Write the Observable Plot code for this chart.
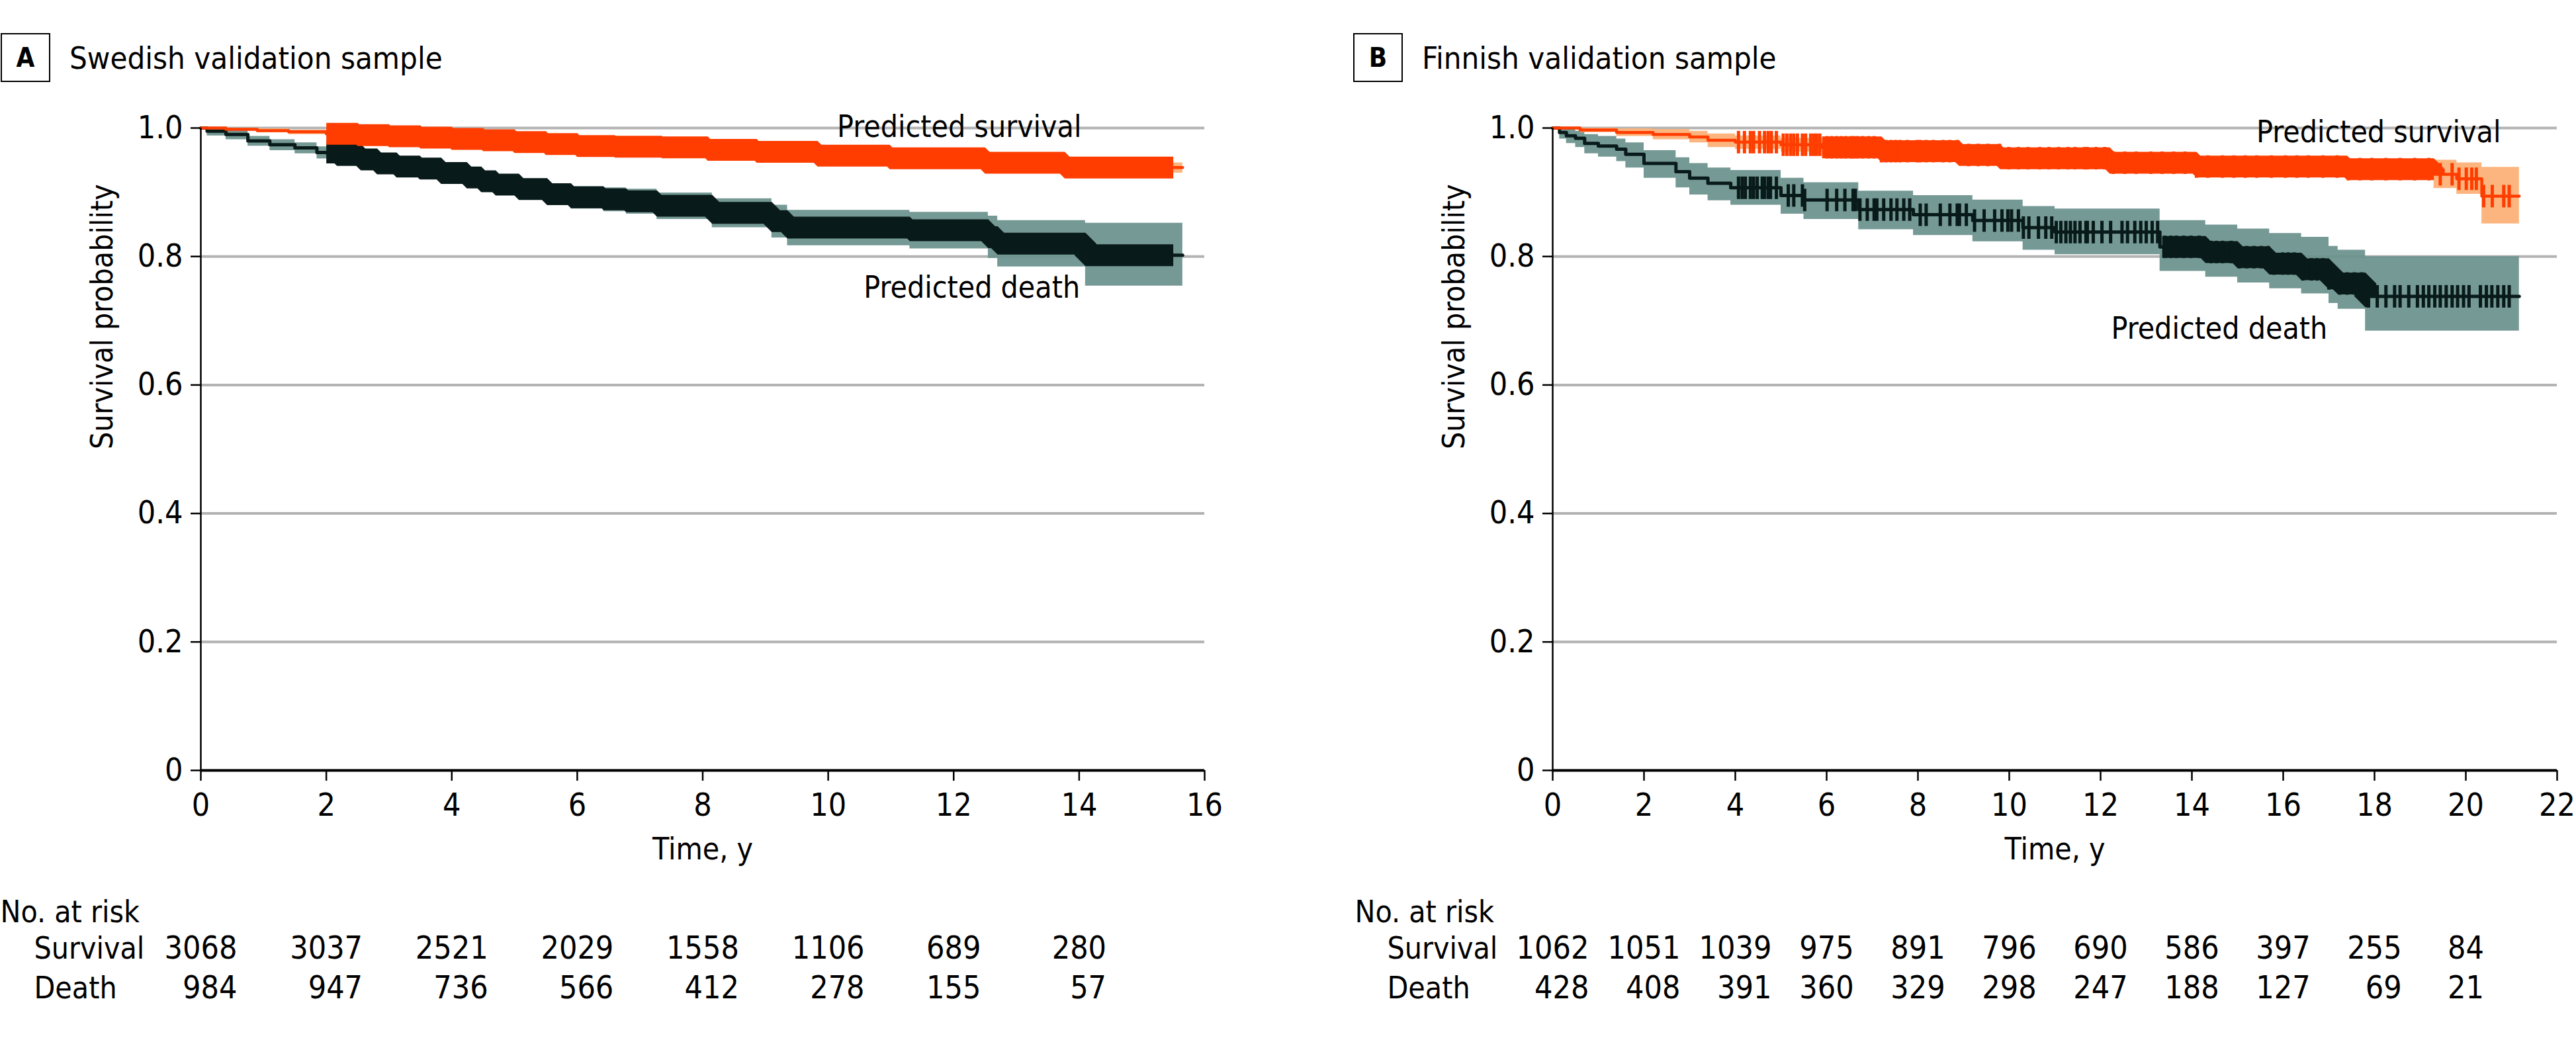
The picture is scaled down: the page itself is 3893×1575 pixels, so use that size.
<!DOCTYPE html>
<html><head><meta charset="utf-8">
<script src="https://cdn.jsdelivr.net/npm/d3@7"></script>
<script src="https://cdn.jsdelivr.net/npm/@observablehq/plot@0.6"></script>
<style>
html,body{margin:0;padding:0;background:#fff;}
body{width:3893px;height:1575px;position:relative;overflow:hidden;font-family:"DejaVu Sans Condensed","DejaVu Sans",sans-serif;font-stretch:condensed;color:#000;}
.hdr{position:absolute;top:50px;height:74px;display:flex;align-items:center;}
.box{box-sizing:border-box;width:75px;height:74px;border:2.5px solid #000;display:flex;align-items:center;justify-content:center;font-weight:bold;font-size:40px;}
.ttl{font-size:47px;margin-left:29px;}
.panel{position:absolute;top:140px;}
</style>
</head><body>
<div class="hdr" style="left:1px"><div class="box">A</div><div class="ttl">Swedish validation sample</div></div>
<div class="hdr" style="left:2045px"><div class="box">B</div><div class="ttl">Finnish validation sample</div></div>
<div class="panel" id="pa" style="left:0px"></div>
<div class="panel" id="pb" style="left:1950px"></div>
<script>
// ---------------- DATA ----------------
// Panel A: Swedish validation sample (Kaplan-Meier steps)
const swedishSurvTime = [0, 0.4, 0.9, 1.4, 2.0, 2.5, 3.0, 3.5, 4.0, 4.5, 5.0, 5.5, 6.0, 6.6, 7.35, 8.08, 8.86, 9.83, 10.98, 12.5, 13.77, 15.65];
const swedishSurvS    = [1.0, 0.998, 0.996, 0.994, 0.991, 0.989, 0.987, 0.985, 0.983, 0.981, 0.978, 0.975, 0.972, 0.971, 0.970, 0.966, 0.963, 0.957, 0.953, 0.946, 0.9385, 0.9385];
const swedishSurvLo   = [1.0, 0.996, 0.993, 0.990, 0.987, 0.985, 0.983, 0.981, 0.978, 0.976, 0.973, 0.970, 0.967, 0.966, 0.964, 0.960, 0.957, 0.950, 0.946, 0.938, 0.930, 0.930];
const swedishSurvHi   = [1.0, 1.0, 0.999, 0.997, 0.995, 0.993, 0.991, 0.989, 0.987, 0.985, 0.983, 0.980, 0.977, 0.976, 0.975, 0.971, 0.968, 0.963, 0.959, 0.953, 0.946, 0.946];

const swedishDeathTime = [0, 0.1, 0.4, 0.75, 1.1, 1.5, 1.85, 2.17, 2.55, 2.81, 3.12, 3.49, 3.83, 4.24, 4.47, 4.7, 5.07, 5.52, 5.9, 6.42, 6.78, 7.27, 8.15, 9.1, 9.35, 11.3, 12.55, 12.7, 14.1, 15.65];
const swedishDeathS    = [1.0, 0.995, 0.990, 0.980, 0.974, 0.969, 0.962, 0.958, 0.951, 0.945, 0.940, 0.937, 0.930, 0.923, 0.917, 0.912, 0.905, 0.897, 0.892, 0.889, 0.886, 0.879, 0.868, 0.855, 0.845, 0.841, 0.830, 0.820, 0.802, 0.802];
const swedishDeathHi   = [1.0, 1.0, 0.996, 0.987, 0.982, 0.977, 0.971, 0.967, 0.961, 0.956, 0.952, 0.949, 0.943, 0.936, 0.931, 0.926, 0.920, 0.913, 0.909, 0.907, 0.905, 0.899, 0.890, 0.880, 0.872, 0.869, 0.863, 0.856, 0.852, 0.852];
const swedishDeathLo   = [1.0, 0.988, 0.982, 0.972, 0.965, 0.960, 0.952, 0.948, 0.940, 0.933, 0.927, 0.924, 0.916, 0.909, 0.902, 0.897, 0.889, 0.880, 0.874, 0.870, 0.866, 0.858, 0.845, 0.829, 0.817, 0.812, 0.797, 0.784, 0.754, 0.754];
// spans where censoring marks are so dense that they merge into a solid band
const swedishSurvDenseCensor  = [2.0, 15.5];
const swedishDeathDenseCensor = [2.0, 15.5];

const swedishRiskTimes    = [0, 2, 4, 6, 8, 10, 12, 14];
const swedishRiskSurvival = [3068, 3037, 2521, 2029, 1558, 1106, 689, 280];
const swedishRiskDeath    = [984, 947, 736, 566, 412, 278, 155, 57];
const swedishXTicks = [0, 2, 4, 6, 8, 10, 12, 14, 16];

// Panel B: Finnish validation sample
const finnishSurvTime = [0, 0.6, 1.4, 2.2, 3.0, 3.4, 4.0, 5.0, 5.9, 7.2, 8.9, 9.8, 12.2, 14.1, 17.4, 19.3, 19.8, 20.35, 21.17];
const finnishSurvS    = [1.0, 0.997, 0.993, 0.990, 0.986, 0.981, 0.978, 0.974, 0.970, 0.964, 0.958, 0.953, 0.946, 0.940, 0.936, 0.928, 0.921, 0.894, 0.894];
const finnishSurvHi   = [1.0, 1.0, 0.999, 0.998, 0.995, 0.991, 0.988, 0.984, 0.980, 0.974, 0.968, 0.963, 0.957, 0.951, 0.947, 0.950, 0.946, 0.939, 0.939];
const finnishSurvLo   = [1.0, 0.993, 0.987, 0.982, 0.977, 0.970, 0.967, 0.963, 0.958, 0.952, 0.946, 0.941, 0.934, 0.927, 0.922, 0.906, 0.897, 0.851, 0.851];

const finnishDeathTime = [0, 0.15, 0.3, 0.5, 0.7, 1.0, 1.4, 1.6, 2.0, 2.7, 3.0, 3.4, 3.9, 5.0, 5.5, 6.7, 7.9, 9.2, 10.3, 11.0, 13.3, 14.3, 15.0, 15.7, 16.4, 17.0, 17.2, 17.8, 21.17];
const finnishDeathS    = [1.0, 0.993, 0.988, 0.984, 0.976, 0.972, 0.967, 0.959, 0.945, 0.932, 0.922, 0.914, 0.907, 0.895, 0.888, 0.873, 0.865, 0.856, 0.845, 0.838, 0.815, 0.807, 0.799, 0.789, 0.780, 0.766, 0.758, 0.738, 0.738];
const finnishDeathHi   = [1.0, 1.0, 0.998, 0.995, 0.990, 0.987, 0.983, 0.977, 0.965, 0.954, 0.945, 0.938, 0.934, 0.922, 0.915, 0.902, 0.895, 0.888, 0.878, 0.874, 0.856, 0.849, 0.843, 0.836, 0.830, 0.816, 0.810, 0.800, 0.800];
const finnishDeathLo   = [1.0, 0.983, 0.976, 0.970, 0.960, 0.955, 0.948, 0.938, 0.922, 0.907, 0.896, 0.887, 0.880, 0.866, 0.858, 0.842, 0.833, 0.823, 0.810, 0.803, 0.777, 0.768, 0.759, 0.750, 0.742, 0.727, 0.718, 0.684, 0.684];

const finnishSurvCensor = [4.07, 4.20, 4.33, 4.40, 4.53, 4.64, 4.72, 4.79, 4.90, 5.05, 5.13, 5.21, 5.28, 5.36, 5.47, 5.54, 5.65, 5.72, 5.78, 5.85,
  6.01, 6.11, 6.22, 6.32, 6.42, 6.53, 6.60, 6.68, 6.79, 6.92, 7.04, 7.20, 7.30, 7.41, 7.51, 7.61, 7.77, 7.98, 8.05, 8.18, 8.34, 8.55, 8.70, 8.86,
  9.11, 9.32, 9.53, 9.79, 9.99, 10.2, 10.41, 10.67, 10.87, 11.08, 11.29, 11.44, 11.65, 11.71, 11.90, 12.09, 12.28, 12.53, 12.78, 13.10, 13.35,
  13.60, 13.85, 14.10, 14.35, 14.67, 14.92, 15.17, 15.42, 15.74, 16.05, 16.30, 16.55, 16.87, 17.18, 17.43, 17.68, 17.94, 18.25, 18.56, 18.88,
  19.19, 19.44, 19.70, 19.85, 20.01, 20.13, 20.23, 20.39, 20.58, 20.83, 20.95];
const finnishDeathCensor = [4.07, 4.15, 4.22, 4.33, 4.40, 4.48, 4.59, 4.64, 4.72, 4.77, 4.90, 5.16, 5.28, 5.47, 5.52, 6.01, 6.22, 6.40, 6.58, 6.63,
  6.73, 6.89, 7.04, 7.10, 7.25, 7.41, 7.54, 7.69, 7.82, 8.05, 8.18, 8.49, 8.70, 8.86, 8.91, 9.06, 9.24, 9.45, 9.68, 9.84, 9.97, 10.05, 10.2,
  10.31, 10.43, 10.64, 10.80, 10.93, 11.03, 11.13, 11.24, 11.34, 11.44, 11.55, 11.68, 11.71, 11.84, 12.03, 12.22, 12.47, 12.59, 12.75, 12.88,
  13.0, 13.13, 13.25, 13.41, 13.54, 13.66, 13.82, 13.98, 14.16, 14.42, 14.54, 14.67, 14.86, 15.04, 15.2, 15.36, 15.52, 15.67, 15.8, 15.99,
  16.11, 16.24, 16.43, 16.62, 16.74, 16.87, 17.0, 17.12, 17.24, 17.4, 17.56, 17.72, 17.87, 18.06, 18.25, 18.44, 18.56, 18.75, 18.94, 19.07,
  19.19, 19.32, 19.44, 19.57, 19.7, 19.82, 19.95, 20.07, 20.32, 20.45, 20.57, 20.7, 20.83, 20.95];
const finnishSurvDenseCensor  = [5.9, 19.3];
const finnishDeathDenseCensor = [13.35, 17.85];

const finnishRiskTimes    = [0, 2, 4, 6, 8, 10, 12, 14, 16, 18, 20];
const finnishRiskSurvival = [1062, 1051, 1039, 975, 891, 796, 690, 586, 397, 255, 84];
const finnishRiskDeath    = [428, 408, 391, 360, 329, 298, 247, 188, 127, 69, 21];
const finnishXTicks = [0, 2, 4, 6, 8, 10, 12, 14, 16, 18, 20, 22];

const yTicks = [0, 0.2, 0.4, 0.6, 0.8, 1.0];
const gridValues = [0.2, 0.4, 0.6, 0.8, 1.0];

// curve labels: [text, time, probability]
const swedishLabels = [["Predicted survival", 12.09, 1.001], ["Predicted death", 12.29, 0.751]];
const finnishLabels = [["Predicted survival", 18.09, 0.993], ["Predicted death", 14.6, 0.687]];

// ---------------- STYLE ----------------
const FONT = '"DejaVu Sans Condensed","DejaVu Sans",sans-serif';
const ORANGE = "#ff3d00", LIGHT_ORANGE = "#fdb178", DARK = "#081a19", TEAL = "#6b918d", GRID = "#b3b3b3";

function stepValue(times, vals, t) {
  const i = d3.bisectRight(times, t) - 1;
  return vals[Math.max(0, i)];
}
function rows(times, s, lo, hi) { return times.map((t, i) => ({t, s: s[i], lo: lo[i], hi: hi[i]})); }
function bandRows(times, s, span) {
  const r = [{t: span[0], s: stepValue(times, s, span[0])}];
  times.forEach((t, i) => { if (t > span[0] && t < span[1]) r.push({t, s: s[i]}); });
  r.push({t: span[1], s: stepValue(times, s, span[1])});
  return r;
}
function censorRows(censor, times, s) { return censor.map(t => ({t, s: stepValue(times, s, t)})); }
const vtick = {draw(context, size) { const h = Math.sqrt(size / Math.PI); context.moveTo(0, -h); context.lineTo(0, h); }};
const bandStyle = {x: "t", y: "s", curve: "step-after", strokeWidth: 33, strokeLinecap: "butt", strokeLinejoin: "miter"};

function panel(o) {
  const surv = rows(o.survTime, o.survS, o.survLo, o.survHi);
  const death = rows(o.deathTime, o.deathS, o.deathLo, o.deathHi);
  const risk = o.riskTimes.map((t, i) => {
    const a = String(o.riskSurv[i]), b = String(o.riskDeath[i]);
    return {t, surv: a, death: "\u2007".repeat(Math.max(0, a.length - b.length)) + b};
  });
  const marks = [
    Plot.ruleY(gridValues, {stroke: GRID, strokeWidth: 4}),
    Plot.areaY(death, {x: "t", y1: "lo", y2: "hi", curve: "step-after", fill: TEAL, fillOpacity: 0.93}),
    Plot.areaY(surv, {x: "t", y1: "lo", y2: "hi", curve: "step-after", fill: LIGHT_ORANGE, fillOpacity: 0.95}),
    Plot.line(death, {x: "t", y: "s", curve: "step-after", stroke: DARK, strokeWidth: 5}),
    Plot.line(surv, {x: "t", y: "s", curve: "step-after", stroke: ORANGE, strokeWidth: 4.5}),
  ];
  if (o.deathDense) marks.push(Plot.line(bandRows(o.deathTime, o.deathS, o.deathDense), {...bandStyle, stroke: DARK}));
  if (o.deathCensor) marks.push(Plot.dot(censorRows(o.deathCensor, o.deathTime, o.deathS), {x: "t", y: "s", symbol: vtick, r: 17, fill: "none", stroke: DARK, strokeWidth: 5}));
  if (o.survDense) marks.push(Plot.line(bandRows(o.survTime, o.survS, o.survDense), {...bandStyle, stroke: ORANGE}));
  if (o.survCensor) marks.push(Plot.dot(censorRows(o.survCensor, o.survTime, o.survS), {x: "t", y: "s", symbol: vtick, r: 17, fill: "none", stroke: ORANGE, strokeWidth: 5}));
  marks.push(
    Plot.axisX({ticks: o.xTicks, tickSize: 16, tickPadding: 18, tickFormat: d => String(d), strokeWidth: 2.5, label: null}),
    Plot.axisY({ticks: yTicks, tickSize: 15, tickPadding: 12, tickFormat: d => d === 0 ? "0" : d.toFixed(1), strokeWidth: 2.5, label: null}),
    Plot.ruleX([0], {y1: 0, y2: 1, stroke: "#000", strokeWidth: 2.5}),
    Plot.ruleY([0], {stroke: "#000", strokeWidth: 4}),
    Plot.text(o.labels, {x: d => d[1], y: d => d[2], text: d => d[0], fill: "#000", fontSize: 46}),
    Plot.text(["Survival probability"], {frameAnchor: "left", rotate: -90, dx: -148, text: d => d, fontSize: 46}),
    Plot.text(["Time, y"], {frameAnchor: "bottom", dy: 134, text: d => d, fontSize: 46}),
    Plot.text(["No. at risk"], {frameAnchor: "bottom-left", dx: o.noRiskDx, dy: 229, textAnchor: "start", text: d => d, fontSize: 46}),
    Plot.text(["Survival"], {frameAnchor: "bottom-left", dx: o.rowDx, dy: 284, textAnchor: "start", text: d => d, fontSize: 46}),
    Plot.text(["Death"], {frameAnchor: "bottom-left", dx: o.rowDx, dy: 344, textAnchor: "start", text: d => d, fontSize: 46}),
    Plot.text(risk, {x: "t", frameAnchor: "bottom", dy: 284, text: "surv"}),
    Plot.text(risk, {x: "t", frameAnchor: "bottom", dy: 344, text: "death"})
  );
  return Plot.plot({
    width: o.width, height: 1435,
    marginTop: 53, marginBottom: 411, marginLeft: o.marginLeft, marginRight: o.marginRight,
    x: {domain: [0, o.xMax]},
    y: {domain: [0, 1]},
    style: {fontFamily: FONT, fontSize: "48px", color: "#000", background: "transparent", overflow: "visible", fontStretch: "condensed"},
    marks
  });
}

document.getElementById("pa").append(panel({
  width: 1900, marginLeft: 303, marginRight: 80, xMax: 16, xTicks: swedishXTicks,
  survTime: swedishSurvTime, survS: swedishSurvS, survLo: swedishSurvLo, survHi: swedishSurvHi,
  deathTime: swedishDeathTime, deathS: swedishDeathS, deathLo: swedishDeathLo, deathHi: swedishDeathHi,
  survDense: swedishSurvDenseCensor, deathDense: swedishDeathDenseCensor,
  riskTimes: swedishRiskTimes, riskSurv: swedishRiskSurvival, riskDeath: swedishRiskDeath,
  labels: swedishLabels, noRiskDx: -303, rowDx: -252
}));
document.getElementById("pb").append(panel({
  width: 1943, marginLeft: 396, marginRight: 29, xMax: 22, xTicks: finnishXTicks,
  survTime: finnishSurvTime, survS: finnishSurvS, survLo: finnishSurvLo, survHi: finnishSurvHi,
  deathTime: finnishDeathTime, deathS: finnishDeathS, deathLo: finnishDeathLo, deathHi: finnishDeathHi,
  survCensor: finnishSurvCensor, deathCensor: finnishDeathCensor,
  survDense: finnishSurvDenseCensor, deathDense: finnishDeathDenseCensor,
  riskTimes: finnishRiskTimes, riskSurv: finnishRiskSurvival, riskDeath: finnishRiskDeath,
  labels: finnishLabels, noRiskDx: -299, rowDx: -250
}));
</script>
</body></html>
